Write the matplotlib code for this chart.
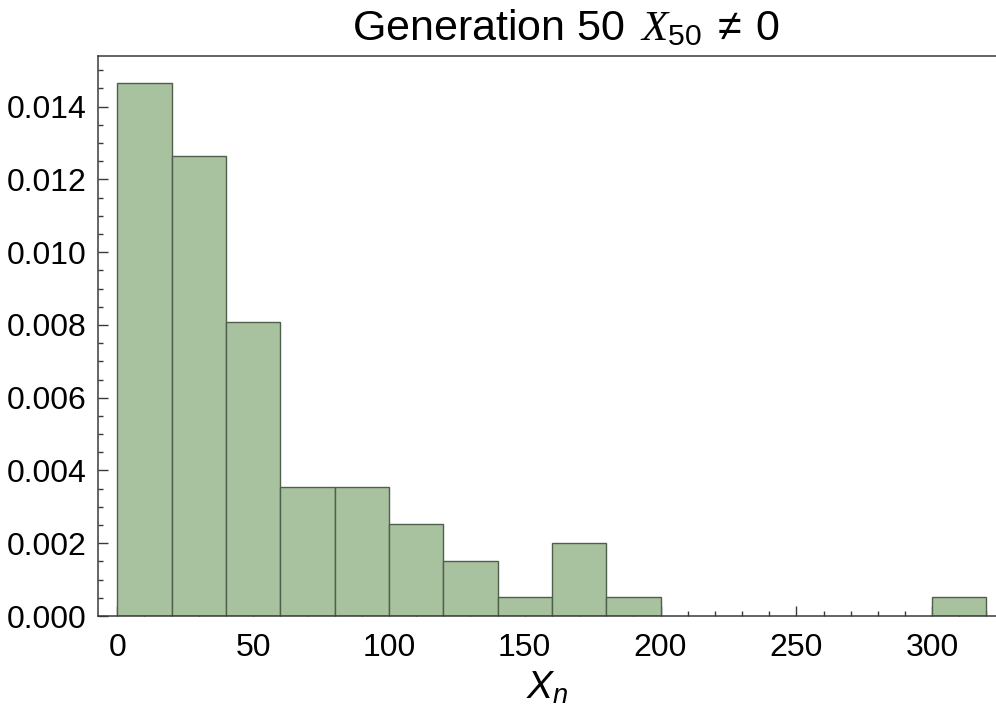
import numpy as np
import matplotlib
matplotlib.use("Agg")
import matplotlib.pyplot as plt
from matplotlib.ticker import MultipleLocator, FixedLocator

# Histogram of X_n at generation 50 (PDF-normalised, bin width 20)
bin_edges = [0, 20, 40, 60, 80, 100, 120, 140, 160, 180, 200,
             220, 240, 260, 280, 300, 320]
density = [0.01465, 0.01263, 0.00808, 0.00354, 0.00354, 0.00253,
           0.00152, 0.00051, 0.00202, 0.00051, 0.0, 0.0, 0.0, 0.0,
           0.0, 0.00051]
x_ticks = [0, 50, 100, 150, 200, 250, 300]
y_ticks = [0.000, 0.002, 0.004, 0.006, 0.008, 0.010, 0.012, 0.014]

plt.rcParams["font.family"] = ["Liberation Sans", "DejaVu Sans"]
plt.rcParams["mathtext.fontset"] = "custom"
plt.rcParams["mathtext.rm"] = "Liberation Sans"
plt.rcParams["mathtext.it"] = "Liberation Serif:italic"
plt.rcParams["mathtext.sf"] = "Liberation Sans:italic"

fig = plt.figure(figsize=(9.96, 7.18), dpi=100)
ax = fig.add_axes([0.0984, 0.142, 0.9016, 0.780])

edges = np.array(bin_edges, dtype=float)
heights = np.array(density)
lefts = edges[:-1]
widths = np.diff(edges)
mask = heights > 0
ax.bar(lefts[mask], heights[mask], width=widths[mask], align="edge",
       color="#a8c2a0", edgecolor="#4f5f4c", linewidth=1.0, zorder=2)

ax.set_xlim(-7.1, 323.5)
ax.set_ylim(0, 0.01539)

ax.xaxis.set_major_locator(FixedLocator(x_ticks))
ax.xaxis.set_minor_locator(MultipleLocator(10))
ax.yaxis.set_major_locator(FixedLocator(y_ticks))
ax.yaxis.set_minor_locator(MultipleLocator(0.0005))
ax.set_yticklabels([f"{v:.3f}" for v in y_ticks])

spine_col = "#3a3a3a"
for side in ["left", "bottom", "top"]:
    ax.spines[side].set_color(spine_col)
    ax.spines[side].set_linewidth(1.1)
ax.spines["right"].set_visible(False)

ax.tick_params(axis="both", which="both", direction="in", color=spine_col,
               top=False, right=False, labelsize=23)
ax.tick_params(axis="both", which="major", length=7.2, width=1.0)
ax.tick_params(axis="both", which="minor", length=3.8, width=1.0)
ax.tick_params(axis="x", which="major", pad=12)
ax.tick_params(axis="y", which="major", pad=8)

ax.set_title(r"Generation 50 $\,X_{\mathrm{50}}\;\neq\;\mathrm{0}$",
             fontsize=31, pad=11, x=0.521)
ax.set_xlabel(r"$\mathsf{X}_{\mathsf{n}}$", fontsize=28, labelpad=5)

fig.savefig("out.png", dpi=100)
